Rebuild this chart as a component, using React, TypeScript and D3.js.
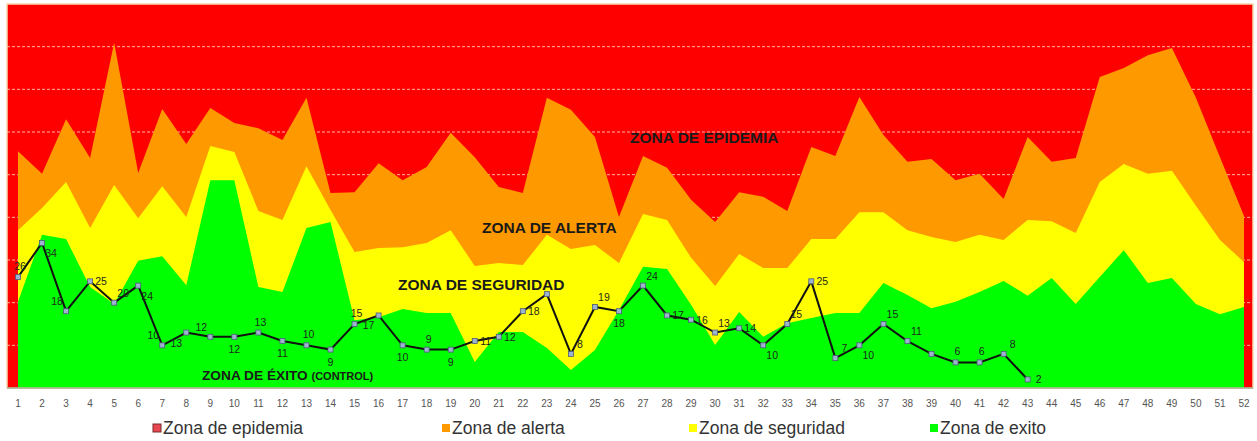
import React, { useEffect } from 'react';
import * as d3 from 'd3';

// semanas epidemiologicas 1..52
const weeks = d3.range(1, 53);

// upper bound of each zone (cases)
const alerta = [55.5, 50.2, 63.0, 53.9, 80.9, 50.4, 65.4, 57.2, 65.6, 62.1, 60.9, 58.1, 68.0, 45.7, 45.9, 52.7, 48.7, 51.8, 59.8, 54.1, 47.1, 45.7, 68.0, 65.2, 58.8, 40.1, 54.4, 51.6, 44.1, 38.9, 45.9, 44.8, 41.5, 56.5, 54.4, 68.2, 59.3, 53.0, 53.7, 48.7, 50.2, 44.3, 58.8, 53.0, 53.9, 72.9, 75.0, 78.0, 79.7, 68.0, 54.1, 40.3];
const seguridad = [37.0, 42.2, 48.3, 37.5, 47.6, 39.8, 47.3, 40.1, 56.7, 55.3, 41.5, 39.4, 52.0, 41.7, 31.9, 32.8, 33.0, 34.0, 37.0, 28.6, 29.3, 28.8, 35.9, 32.6, 33.5, 29.3, 40.8, 39.4, 30.5, 23.9, 31.4, 28.1, 28.1, 34.9, 34.9, 41.2, 41.2, 37.0, 35.4, 34.2, 35.9, 34.7, 39.4, 39.1, 36.3, 48.3, 52.5, 50.2, 50.9, 42.7, 34.7, 29.5];
const exito = [20.2, 35.9, 34.9, 23.7, 19.7, 29.8, 30.9, 24.1, 48.7, 48.7, 23.7, 22.5, 37.5, 38.9, 15.9, 16.6, 18.5, 17.6, 17.6, 6.1, 13.1, 13.1, 9.4, 4.2, 8.9, 18.3, 28.4, 27.9, 19.5, 10.1, 17.8, 12.0, 15.2, 16.4, 17.6, 17.6, 24.6, 21.8, 18.7, 20.2, 22.5, 25.1, 21.6, 25.8, 19.7, 26.0, 32.3, 24.6, 25.8, 19.7, 17.3, 19.0];

// casos del año actual (semanas 1..43)
const casos = [26, 34, 18, 25, 20, 24, 10, 13, 12, 12, 13, 11, 10, 9, 15, 17, 10, 9, 9, 11, 12, 18, 22, 8, 19, 18, 24, 17, 16, 13, 14, 10, 15, 25, 7, 10, 15, 11, 8, 6, 6, 8, 2];

// where each data label sits relative to its point
const labelPos = ['a', 'br', 'al', 'r', 'ar', 'br', 'al', 'bl', 'al', 'b', 'a', 'b', 'a', 'b', 'a', 'bl', 'b', 'a', 'b', 'r', 'r', 'r', '', 'ar', 'ar', 'b', 'ar', 'r', 'r', 'ar', 'r', 'br', 'ar', 'r', 'ar', 'br', 'ar', 'ar', '', 'a', 'a', 'ar', 'r'];

const legendItems = ['Zona de epidemia', 'Zona de alerta', 'Zona de seguridad', 'Zona de exito'];
const legendColors = ['#ff0000', '#ff9900', '#ffff00', '#00ff00'];

const offsets: Record<string, [number, number]> = {
    a: [2, -11], b: [0, 12], r: [11, 0], l: [-11, 0],
    ar: [9, -10], br: [9, 10], al: [-9, -10], bl: [-10, 10],
};

export default function App() {
    useEffect(() => {
        document.body.style.margin = '0';
    }, []);

    const W = 1257, H = 441;
    const plot = { left: 7, right: 1253, top: 4, bottom: 388 };

    const x = d3.scaleLinear().domain([1, 52]).range([18, 1244]);
    const y = d3.scaleLinear().domain([0, 90]).range([plot.bottom, plot.top]);

    const areaOf = (vals: number[]) =>
        d3.area<number>()
            .x((d, i) => x(weeks[i]))
            .y0(y(0))
            .y1(d => y(d))(vals) || '';

    const line = d3.line<number>()
        .x((d, i) => x(weeks[i]))
        .y(d => y(d))(casos) || '';

    const gridVals = d3.range(10, 90, 10);
    const font = "'Liberation Sans', Arial, sans-serif";
    const narrow = "'Liberation Sans Narrow', 'Arial Narrow', 'Liberation Sans', sans-serif";

    const legendX = [153, 442, 689, 930];

    return (
        <svg width={W} height={H} style={{ display: 'block', background: '#fff' }}>
            {/* plot background = zona de epidemia */}
            <rect x={plot.left} y={plot.top} width={plot.right - plot.left} height={plot.bottom - plot.top} fill="#ff0000" />

            {gridVals.map(v => (
                <line key={v} x1={plot.left} x2={plot.right} y1={y(v)} y2={y(v)}
                    stroke="#ffd0c8" strokeWidth={1} strokeDasharray="3,2" opacity={0.85} />
            ))}

            <path d={areaOf(alerta)} fill="#ff9900" />
            <path d={areaOf(seguridad)} fill="#ffff00" />
            <path d={areaOf(exito)} fill="#00ff00" />

            <rect x={plot.left} y={plot.top} width={plot.right - plot.left} height={plot.bottom - plot.top}
                fill="none" stroke="#f6d8b0" strokeWidth={1.5} />
            <line x1={plot.left} x2={plot.right} y1={plot.bottom} y2={plot.bottom} stroke="#7aa07a" strokeWidth={1} />

            {/* zone titles */}
            <g fontFamily={font} fontWeight="bold" fill="#1a1a1a">
                <text x={630} y={143} fontSize={15.5}>ZONA DE EPIDEMIA</text>
                <text x={482} y={233} fontSize={15.5}>ZONA DE ALERTA</text>
                <text x={398} y={290} fontSize={15.5}>ZONA DE SEGURIDAD</text>
                <text x={202} y={380} fontSize={13.7}>ZONA DE ÉXITO <tspan fontSize={11}>(CONTROL)</tspan></text>
            </g>

            {/* casos */}
            <path d={line} fill="none" stroke="#111" strokeWidth={2} />
            {casos.map((v, i) => (
                <rect key={i} x={x(weeks[i]) - 2.5} y={y(v) - 2.5} width={5} height={5}
                    fill="#9db3d0" stroke="#4d5d78" strokeWidth={0.8} />
            ))}
            <g fontFamily={font} fontSize={10.5} fill="#1d2a1d" textAnchor="middle">
                {casos.map((v, i) => {
                    const p = labelPos[i];
                    if (!p) return null;
                    const [dx, dy] = offsets[p];
                    return (
                        <text key={i} x={x(weeks[i]) + dx} y={y(v) + dy} dominantBaseline="central">{v}</text>
                    );
                })}
            </g>

            {/* x axis labels */}
            <g fontFamily={narrow} fontSize={10} fill="#555" textAnchor="middle">
                {weeks.map(w => (
                    <text key={w} x={x(w)} y={407}>{w}</text>
                ))}
            </g>

            {/* legend */}
            <g fontFamily={font} fontSize={17.5} fill="#333">
                {legendItems.map((t, i) => (
                    <g key={t}>
                        <rect x={legendX[i]} y={424} width={8} height={8}
                            fill={i === 0 ? '#e8474f' : legendColors[i]}
                            stroke={i === 0 ? '#7a2a2a' : 'none'} strokeWidth={1} />
                        <text x={legendX[i] + 10} y={434}>{t}</text>
                    </g>
                ))}
            </g>
        </svg>
    );
}
